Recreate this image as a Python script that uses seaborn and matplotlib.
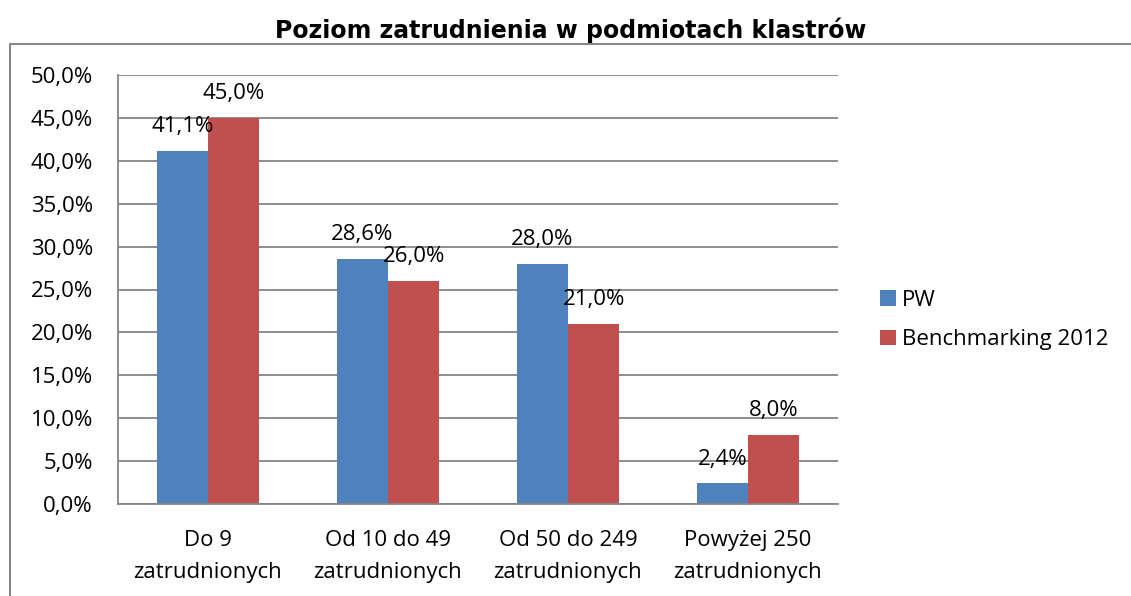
import matplotlib
matplotlib.use("Agg")
import matplotlib.pyplot as plt
import seaborn as sns
import pandas as pd
from matplotlib.lines import Line2D
from matplotlib.patches import Patch

categories = ["Do 9\nzatrudnionych", "Od 10 do 49\nzatrudnionych",
              "Od 50 do 249\nzatrudnionych", "Powyżej 250\nzatrudnionych"]
series_names = ["PW", "Benchmarking 2012"]
pw_values = [41.1, 28.6, 28.0, 2.4]
bench_values = [45.0, 26.0, 21.0, 8.0]
y_ticks = [0, 5, 10, 15, 20, 25, 30, 35, 40, 45, 50]
title = "Poziom zatrudnienia w podmiotach klastrów"

df = pd.DataFrame({
    "kategoria": categories * 2,
    "seria": [series_names[0]] * 4 + [series_names[1]] * 4,
    "wartosc": pw_values + bench_values,
})

sns.set_style("white")
plt.rcParams["font.family"] = ["Open Sans", "DejaVu Sans"]
plt.rcParams["text.color"] = "black"
plt.rcParams["xtick.labelcolor"] = "black"
plt.rcParams["ytick.labelcolor"] = "black"

W, H = 1131, 596
FS = 16
fig = plt.figure(figsize=(W / 100, H / 100), dpi=100)
ax = fig.add_axes([118 / W, 1 - 504 / H, (838 - 118) / W, (504 - 75) / H])

colors = ["#4F81BD", "#C0504D"]
sns.barplot(data=df, x="kategoria", y="wartosc", hue="seria", palette=colors,
            width=0.57, gap=0, ax=ax, legend=False, saturation=1,
            edgecolor="none", linewidth=0)

grid_c = "#868686"
ax.set_xlim(-0.5, 3.5)
ax.set_ylim(0, 50)
ax.set_yticks(y_ticks)
ax.set_yticklabels([f"{v:.1f}%".replace(".", ",") for v in y_ticks], fontsize=FS)
ax.yaxis.grid(True, color=grid_c, linewidth=1.3)
ax.set_axisbelow(True)
ax.set_xticks([-0.5, 0.5, 1.5, 2.5, 3.5])
ax.set_xticklabels([])
ax.set_xticks([0, 1, 2, 3], minor=True)
ax.set_xticklabels(categories, minor=True, fontsize=FS, linespacing=1.65)
ax.tick_params(axis="x", which="minor", length=0, pad=19, labelcolor="black")
ax.tick_params(axis="x", which="major", length=8, width=1.3, color=grid_c, direction="out")
ax.tick_params(axis="y", length=8, width=1.3, color=grid_c, direction="out", pad=10,
               labelcolor="black")
ax.set_xlabel("")
ax.set_ylabel("")
for s in ["top", "right"]:
    ax.spines[s].set_visible(False)
for s in ["left", "bottom"]:
    ax.spines[s].set_color(grid_c)
    ax.spines[s].set_linewidth(1.3)

# data labels
for container, vals in zip(ax.containers, [pw_values, bench_values]):
    for bar, v in zip(container, vals):
        ax.annotate(f"{v:.1f}%".replace(".", ","),
                    (bar.get_x() + bar.get_width() / 2, bar.get_height()),
                    xytext=(0, 10), textcoords="offset points",
                    ha="center", va="bottom", fontsize=FS, color="black")

# legend
handles = [Patch(facecolor=c, edgecolor="none") for c in colors]
fig.legend(handles, series_names, loc="center left",
           bbox_to_anchor=(869 / W, 1 - 320 / H), frameon=False, borderpad=0,
           fontsize=FS, handlelength=0.7, handleheight=0.7,
           handletextpad=0.3, labelspacing=0.85, labelcolor="black")

# title
fig.text(571 / W, 1 - 30 / H, title, ha="center", va="center", color="black",
         fontsize=17, fontweight="bold", family="DejaVu Sans")

# frame of chart area (cropped)
fig.add_artist(Line2D([9.5 / W, 9.5 / W], [0, 1 - 44 / H], transform=fig.transFigure,
                      color=grid_c, linewidth=1.5))
fig.add_artist(Line2D([9.5 / W, 1], [1 - 44 / H, 1 - 44 / H], transform=fig.transFigure,
                      color=grid_c, linewidth=1.5))

fig.savefig("out.png", dpi=100)
